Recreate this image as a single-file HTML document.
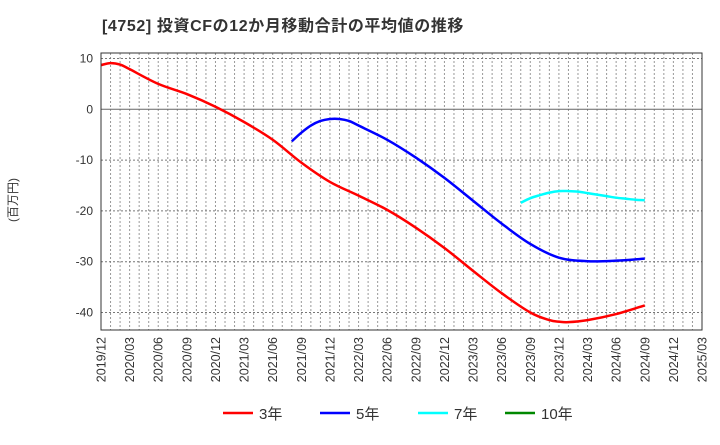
<!DOCTYPE html>
<html><head><meta charset="utf-8"><style>
body{margin:0;background:#fff;font-family:"Liberation Sans","Noto Sans CJK JP",sans-serif;}
</style></head><body>
<svg id="c" width="720" height="440" xmlns="http://www.w3.org/2000/svg" font-family="Liberation Sans, Noto Sans CJK JP, sans-serif">
<text x="102" y="31" font-size="16" font-weight="bold" fill="#333" letter-spacing="0.6">[4752]  投資CFの12か月移動合計の平均値の推移</text>
<text transform="translate(17,200) rotate(-90)" text-anchor="middle" font-size="12" fill="#333">(百万円)</text>
<g id="grid"></g><g id="series"></g><g id="axes"></g>
<g font-size="15" fill="#333">
<line x1="223" y1="413" x2="253" y2="413" stroke="#f00" stroke-width="2.5"/><text x="259" y="419">3年</text>
<line x1="320" y1="413" x2="350" y2="413" stroke="#00f" stroke-width="2.5"/><text x="356" y="419">5年</text>
<line x1="418" y1="413" x2="448" y2="413" stroke="#0ff" stroke-width="2.5"/><text x="454" y="419">7年</text>
<line x1="505" y1="413" x2="535" y2="413" stroke="#080" stroke-width="2.5"/><text x="541" y="419">10年</text>
</g>
</svg>
<script>
const xLabels=["2019/12","2020/03","2020/06","2020/09","2020/12","2021/03","2021/06","2021/09","2021/12","2022/03","2022/06","2022/09","2022/12","2023/03","2023/06","2023/09","2023/12","2024/03","2024/06","2024/09","2024/12","2025/03"];
const yTicks=[10,0,-10,-20,-30,-40];
// month index from 2019/12
const red3Months=[0,1,2,3,6,9,12,15,18,21,24,27,30,33,36,39,42,45,47,48,49,51,54,57];
const red3Values=[8.7,9.1,8.8,7.9,5.0,3.0,0.5,-2.5,-6.0,-10.5,-14.3,-17.0,-19.8,-23.3,-27.3,-31.8,-36.2,-40.0,-41.5,-41.8,-41.9,-41.5,-40.3,-38.6];
const blue5Months=[20,21,22,23,24,25,26,27,30,33,36,39,42,45,48,51,54,57];
const blue5Values=[-6.3,-4.6,-3.2,-2.3,-1.9,-1.9,-2.3,-3.2,-6.0,-9.5,-13.5,-18.0,-22.5,-26.5,-29.2,-29.9,-29.8,-29.4];
const cyan7Months=[44,45,46,47,48,49,50,51,52,53,54,55,56,57];
const cyan7Values=[-18.4,-17.5,-16.9,-16.4,-16.1,-16.1,-16.2,-16.5,-16.8,-17.1,-17.4,-17.6,-17.8,-17.9];
const L=101,R=702,T=53,B=330,NM=63;
const X=m=>L+(R-L)*m/NM;
const Y=v=>109.3-v*5.08;
const NS="http://www.w3.org/2000/svg";
function mk(t,a,p){const e=document.createElementNS(NS,t);for(const k in a)e.setAttribute(k,a[k]);p.appendChild(e);return e;}
const grid=document.getElementById('grid'),axes=document.getElementById('axes'),ser=document.getElementById('series');
for(let m=1;m<NM;m++){const l=mk('line',{x1:X(m),x2:X(m),y1:T,y2:B,stroke:'#999','stroke-dasharray':'2,2','stroke-width':1},grid);

}
yTicks.forEach(v=>{const l=mk('line',{x1:L,x2:R,y1:Y(v),y2:Y(v),stroke:v===0?'#666':'#777','stroke-dasharray':v===0?'':'2,2','stroke-width':1},grid);


const t=mk('text',{x:L-8,y:Y(v)+4,'text-anchor':'end','font-size':12,fill:'#333'},axes);t.textContent=v;

});
xLabels.forEach((s,i)=>{const x=X(i*3);const t=mk('text',{transform:`translate(${x+4.5},337) rotate(-90)`,'text-anchor':'end','font-size':12.5,fill:'#333'},axes);t.textContent=s;

});
const fr=mk('rect',{x:L,y:T,width:R-L,height:B-T,fill:'none',stroke:'#333','stroke-width':1},axes);


function path(ms,vs){const p=ms.map((m,i)=>[X(m),Y(vs[i])]);let d=`M${p[0][0]},${p[0][1]}`;
for(let i=0;i<p.length-1;i++){const p0=p[i-1]||p[i],p1=p[i],p2=p[i+1],p3=p[i+2]||p2;
const c1=[p1[0]+(p2[0]-p0[0])/6,p1[1]+(p2[1]-p0[1])/6],c2=[p2[0]-(p3[0]-p1[0])/6,p2[1]-(p3[1]-p1[1])/6];
d+=` C${c1[0]},${c1[1]} ${c2[0]},${c2[1]} ${p2[0]},${p2[1]}`;}return d;}
[[red3Months,red3Values,'#f00','series-3y'],[blue5Months,blue5Values,'#00f','series-5y'],[cyan7Months,cyan7Values,'#0ff','series-7y']].forEach(([m,v,c,n])=>{
const e=mk('path',{d:path(m,v),fill:'none',stroke:c,'stroke-width':2.5},ser);

});
</script>
</body></html>
